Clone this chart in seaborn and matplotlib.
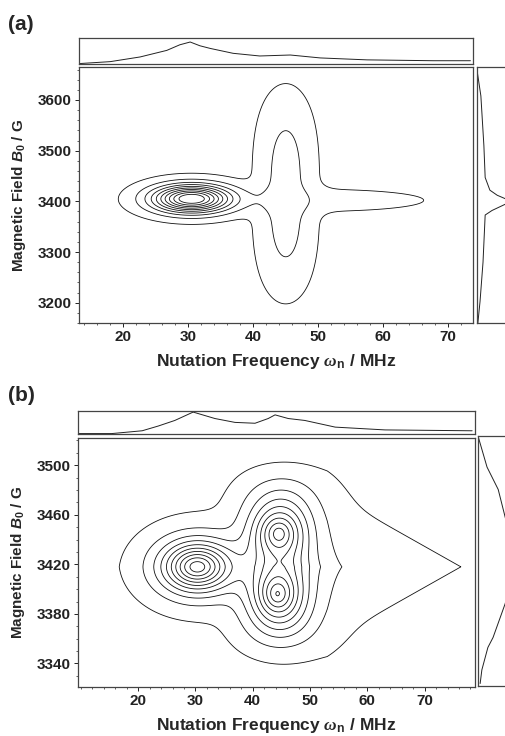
import numpy as np
import pandas as pd
import matplotlib
matplotlib.use("Agg")
import matplotlib.pyplot as plt
import seaborn as sns
from matplotlib.ticker import MultipleLocator, FixedLocator

sns.set_style("white")
plt.rcParams['font.family'] = ['Liberation Sans', 'DejaVu Sans']
plt.rcParams['font.weight'] = 'bold'
plt.rcParams['axes.labelweight'] = 'bold'
plt.rcParams['mathtext.fontset'] = 'custom'
plt.rcParams['mathtext.rm'] = 'Liberation Sans:bold'
plt.rcParams['mathtext.it'] = 'Liberation Sans:bold:italic'
plt.rcParams['mathtext.bf'] = 'Liberation Sans:bold'
plt.rcParams['mathtext.tt'] = 'Liberation Serif:italic'

# ---------------- data ----------------
# peak components: centre (MHz, G), widths (MHz, G), amplitude,
# exponents in x / y and overall exponent of the profile
a_cx = [30.5, 45.0, 50.0]
a_cy = [3405, 3415, 3402]
a_sx = [5.6, 3.7, 18.0]
a_sy = [25.5, 173.0, 24.0]
a_amp = [1.0, 0.145, 0.045]
a_px = [2, 2, 2]
a_py = [2, 3, 2]
a_e = [1, 1, 1]

b_cx = [53.0, 30.3, 44.5, 44.3, 45.0]
b_cy = [3418, 3418, 3445, 3396, 3422]
b_sx = [14.5, 5.7, 3.8, 3.8, 6.0]
b_sy = [37.8, 19.0, 18.0, 20.0, 64.0]
b_amp = [0.10, 0.95, 0.55, 0.6, 0.28]
b_px = [1, 2, 2, 2, 2]
b_py = [1, 2, 2, 2, 5]
b_e = [1, 0.85, 0.75, 0.75, 1]

levels = [0.02, 0.1, 0.2, 0.3, 0.4, 0.5, 0.6, 0.7, 0.8, 0.9]

# projections (relative height in the side boxes)
a_top_mhz = [13.4, 18.0, 22.6, 26.7, 28.7, 30.3, 31.8, 33.4, 36.9, 41.0, 45.7, 50.3, 57.5, 67.7, 73.4]
a_top_val = [0.0, 0.077, 0.27, 0.54, 0.77, 0.885, 0.73, 0.62, 0.42, 0.31, 0.35, 0.23, 0.15, 0.115, 0.115]
a_right_g = [3659, 3608, 3510, 3447, 3422, 3412, 3400, 3392, 3382, 3373, 3280, 3202, 3160]
a_right_val = [0.0, 0.09, 0.16, 0.19, 0.30, 0.47, 0.80, 0.60, 0.35, 0.19, 0.14, 0.07, 0.02]

b_top_mhz = [9.5, 15.4, 20.7, 23.5, 26.4, 29.6, 33.4, 36.9, 40.4, 42.7, 43.9, 46.2, 49.1, 54.4, 63.1, 78.3]
b_top_val = [0.0, 0.0, 0.13, 0.35, 0.61, 1.0, 0.70, 0.52, 0.48, 0.70, 0.87, 0.70, 0.61, 0.30, 0.17, 0.13]
b_right_g = [3522, 3497, 3479, 3457, 3420, 3387, 3360, 3352, 3334, 3323]
b_right_val = [0.0, 0.21, 0.47, 0.63, 0.9, 0.63, 0.35, 0.23, 0.09, 0.05]

a_xticks = [20, 30, 40, 50, 60, 70]
a_yticks = [3200, 3300, 3400, 3500, 3600]
b_xticks = [20, 30, 40, 50, 60, 70]
b_yticks = [3340, 3380, 3420, 3460, 3500]

xlabel = r"Nutation Frequency $\mathtt{\omega}_\mathrm{n}$ / MHz"
ylabel = r"Magnetic Field $\mathit{B}_\mathrm{0}$ / G"

# ---------------- figure ----------------
W, H = 505, 736
fig = plt.figure(figsize=(W / 100, H / 100), dpi=100)
fig.patch.set_facecolor("white")


def ax_px(x0, y0, x1, y1):
    return fig.add_axes([x0 / W, 1 - y1 / H, (x1 - x0) / W, (y1 - y0) / H])


def field(X, Y, cx, cy, sx, sy, amp, px, py, e):
    Z = np.zeros_like(X)
    for i in range(len(cx)):
        u = np.abs((X - cx[i]) / sx[i])
        v = np.abs((Y - cy[i]) / sy[i])
        Z += amp[i] * np.exp(-(u ** px[i] + v ** py[i]) ** e[i])
    return Z


LC = "#222222"


def style_main(ax, xlim, ylim, xt, yt, xminor, yminor):
    ax.set_xlim(*xlim)
    ax.set_ylim(*ylim)
    ax.xaxis.set_major_locator(FixedLocator(xt))
    ax.yaxis.set_major_locator(FixedLocator(yt))
    ax.xaxis.set_minor_locator(MultipleLocator(xminor))
    ax.yaxis.set_minor_locator(MultipleLocator(yminor))
    ax.tick_params(which="major", direction="out", length=3, width=0.7, labelsize=11,
                   bottom=True, left=True, pad=2, colors=LC)
    ax.tick_params(which="minor", direction="out", length=1.5, width=0.5,
                   bottom=True, left=True, colors=LC)
    for s in ax.spines.values():
        s.set_linewidth(0.9)
        s.set_color("#444444")
    ax.set_xlabel(xlabel, fontsize=12.5, labelpad=6)
    ax.set_ylabel(ylabel, fontsize=11, labelpad=7)


def style_box(ax):
    ax.set_xticks([])
    ax.set_yticks([])
    for s in ax.spines.values():
        s.set_linewidth(0.9)
        s.set_color("#444444")


def panel(main, top, right, xlim, ylim, comp, tmhz, tval, rg, rval, xt, yt, yminor):
    x = np.linspace(xlim[0], xlim[1], 600)
    y = np.linspace(ylim[0], ylim[1], 600)
    X, Y = np.meshgrid(x, y)
    Z = field(X, Y, *comp)
    main.contour(X, Y, Z, levels=levels, colors="#111111", linewidths=0.6)
    style_main(main, xlim, ylim, xt, yt, 2, yminor)

    df_t = pd.DataFrame({"mhz": tmhz, "val": tval})
    sns.lineplot(data=df_t, x="mhz", y="val", ax=top, color=LC, linewidth=0.7,
                 estimator=None, sort=False)
    top.set_xlim(*xlim)
    top.set_ylim(-0.02, 1.05)
    top.set_xlabel("")
    top.set_ylabel("")
    style_box(top)

    df_r = pd.DataFrame({"g": rg, "val": rval})
    sns.lineplot(data=df_r, x="val", y="g", ax=right, color=LC, linewidth=0.7,
                 estimator=None, sort=False, orient="y")
    right.set_ylim(*ylim)
    right.set_xlim(0, 1)
    right.set_xlabel("")
    right.set_ylabel("")
    style_box(right)


# panel (a)
a_main = ax_px(79, 67, 473, 323)
a_top = ax_px(79, 38, 473, 64)
a_right = ax_px(477, 67, 520, 323)
panel(a_main, a_top, a_right, (13.2, 73.8), (3160, 3665),
      (a_cx, a_cy, a_sx, a_sy, a_amp, a_px, a_py, a_e),
      a_top_mhz, a_top_val, a_right_g, a_right_val, a_xticks, a_yticks, 20)

# panel (b)
b_main = ax_px(78, 438, 475, 687)
b_top = ax_px(78, 411, 475, 434)
b_right = ax_px(478, 436, 521, 686)
panel(b_main, b_top, b_right, (9.5, 78.8), (3321, 3522),
      (b_cx, b_cy, b_sx, b_sy, b_amp, b_px, b_py, b_e),
      b_top_mhz, b_top_val, b_right_g, b_right_val, b_xticks, b_yticks, 10)

fig.text(8 / W, 1 - 24 / H, "(a)", fontsize=15, fontweight="bold", va="center", ha="left")
fig.text(8 / W, 1 - 396 / H, "(b)", fontsize=15, fontweight="bold", va="center", ha="left")

fig.savefig("out.png", dpi=100, facecolor="white")
